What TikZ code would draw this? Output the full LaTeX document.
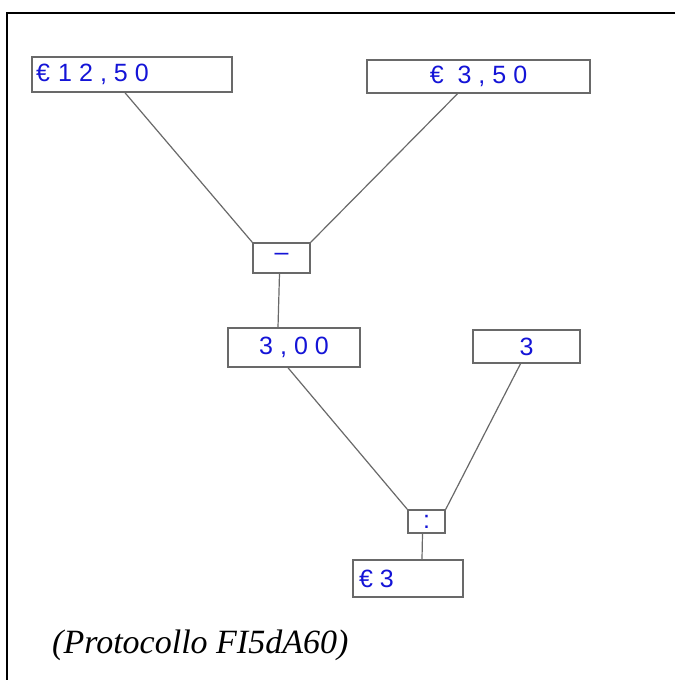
\documentclass[tikz,border=0pt]{standalone}
\usepackage{fontspec}
\setmainfont{Liberation Serif}
\newfontfamily\handfont[LetterSpace=28]{Liberation Sans}
\usetikzlibrary{calc}
\definecolor{inkblue}{RGB}{20,20,215}
\definecolor{pencil}{RGB}{105,105,105}
\tikzset{
  box/.style={draw=pencil, line width=1.5pt, inner sep=0pt, font=\handfont\fontsize{25}{25}\selectfont, text=inkblue},
  link/.style={draw=pencil, line width=1.2pt},
  frame/.style={draw=black, line width=2pt}
}
\begin{document}
\begin{tikzpicture}[x=1pt,y=-1pt]
\useasboundingbox (0,0) rectangle (675,680);
\fill[white] (0,0) rectangle (675,680);
\draw[frame] (675,13) -- (7,13) -- (7,680);
% boxes
\node[box, minimum width=200pt, minimum height=35pt, text width=192pt, align=left] (b1) at (132,74.5) {€ 12,50};
\node[box, minimum width=223pt, minimum height=33pt] (b2) at (478.5,76.5) {€ 3,50};
\node[box, minimum width=57pt, minimum height=30pt] (minus) at (281.5,258) {\raisebox{2pt}{–}};
\node[box, minimum width=132pt, minimum height=39pt] (b300) at (294,347.5) {3,00};
\node[box, minimum width=107pt, minimum height=33pt] (b3) at (526.5,346.5) {3};
\node[box, minimum width=37pt, minimum height=23pt] (colon) at (426.5,521.5) {:};
\node[box, minimum width=110pt, minimum height=37pt, text width=98pt, align=left] (res) at (408,578.5) {€3};
% connectors
\draw[link] ([xshift=-7pt]b1.south) -- (minus.north west);
\draw[link] ([xshift=-21pt]b2.south) -- (minus.north east);
\draw[link] ([xshift=-2pt]minus.south) -- ([xshift=-16pt]b300.north);
\draw[link] ([xshift=-6pt]b300.south) -- (colon.north west);
\draw[link] ([xshift=-6pt]b3.south) -- (colon.north east);
\draw[link] ([xshift=-4pt]colon.south) -- ([xshift=14pt]res.north);
% caption
\node[anchor=base west, inner sep=0pt, font=\itshape\fontsize{34}{34}\selectfont] (cap) at (52,653) {(Protocollo FI5dA60)};
\end{tikzpicture}
\end{document}
